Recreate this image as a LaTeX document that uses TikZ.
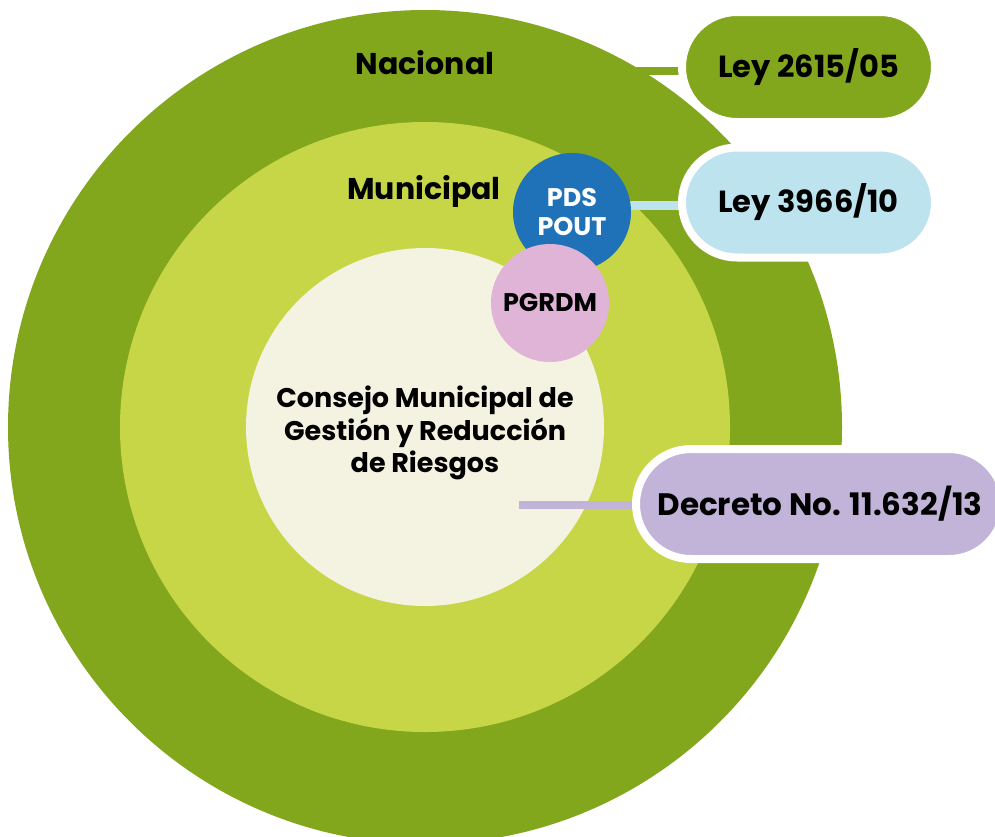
\documentclass[tikz,border=0pt]{standalone}
\usepackage{fontspec}
\setmainfont{Poppins}
\usetikzlibrary{shapes.misc,positioning}
\definecolor{nacgreen}{HTML}{82A61C}
\definecolor{mungreen}{HTML}{C6D646}
\definecolor{cream}{HTML}{F4F2E1}
\definecolor{pdsblue}{HTML}{1F72B8}
\definecolor{pgpink}{HTML}{E0B4D6}
\definecolor{leyblue}{HTML}{BDE3EE}
\definecolor{lilac}{HTML}{C2B4D9}

\begin{document}
\begin{tikzpicture}[x=1pt,y=-1pt,
  ring/.style={circle,inner sep=0pt,minimum size=#1},
  pill/.style={rounded rectangle,draw=white,line width=8pt,minimum height=110,inner sep=0pt,
    font=\bfseries\fontsize{30.5}{38}\selectfont},
  tag/.style={font=\bfseries\fontsize{30}{38}\selectfont},
  link/.style={line width=8pt}]
  \useasboundingbox (0,0) rectangle (995,836);
  % rings
  \node[ring=834, fill=nacgreen] (nacional) at (425,427) {};
  \node[ring=610, fill=mungreen] (municipal) at (425,427) {};
  \node[ring=358, fill=cream] (consejo) at (425,427) {};
  \node[align=center, font=\bfseries\fontsize{27}{32.5}\selectfont] (consejotxt) at (425,433)
    {Consejo Municipal de\\Gesti\'on y Reducci\'on\\de Riesgos};
  \node[tag] (nacionaltxt) at (425,63) {Nacional};
  \node[tag] (municipaltxt) at (424,191) {Municipal};
  % links
  \coordinate (nacend) at (600,71);
  \coordinate (pdsend) at (600,205.5);
  \coordinate (decend) at (519,505);
  \draw[link, nacgreen] (nacend) -- (nacend -| 690,0);
  \draw[link, leyblue, line width=9pt] (pdsend) -- (pdsend -| 690,0);
  \draw[link, lilac] (decend) -- (decend -| 640,0);
  % plans
  \node[ring=118, fill=pdsblue, text=white, align=center, font=\bfseries\fontsize{25.5}{28.5}\selectfont] (pds) at (572,212) {PDS\\POUT};
  \node[ring=118, fill=pgpink, font=\bfseries\fontsize{25.5}{28}\selectfont] (pgrdm) at (550,303) {PGRDM};
  % laws
  \node[pill, fill=nacgreen, minimum width=253] (ley2615) at (808.5,67) {Ley 2615/05};
  \node[pill, fill=leyblue, minimum width=253] (ley3966) at (808.5,202.5) {Ley 3966/10};
  \node[pill, fill=lilac, minimum width=368, font=\bfseries\fontsize{31}{38}\selectfont] (decreto) at (820,504) {Decreto No. 11.632/13};
\end{tikzpicture}
\end{document}
